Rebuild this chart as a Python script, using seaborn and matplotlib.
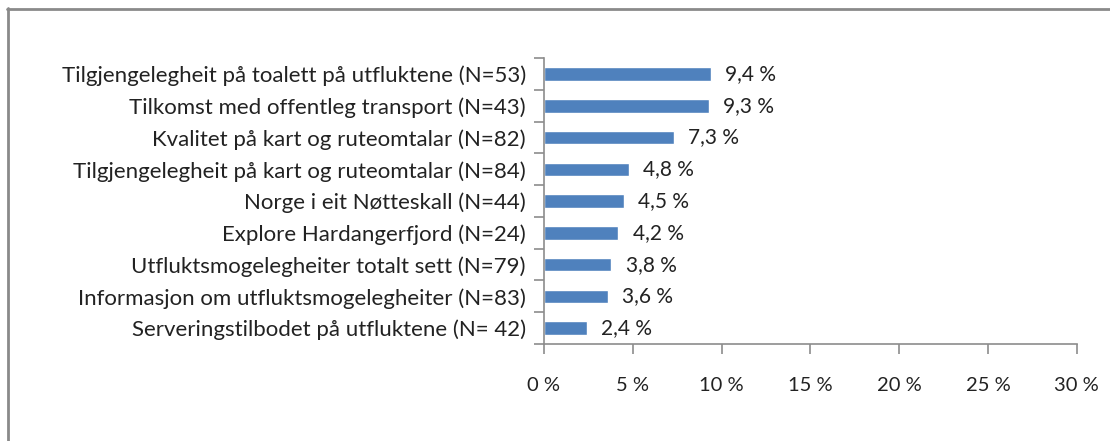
import matplotlib
matplotlib.use("Agg")
import matplotlib.pyplot as plt
from matplotlib.lines import Line2D
import seaborn as sns
import pandas as pd

categories = [
    "Tilgjengelegheit på toalett på utfluktene (N=53)",
    "Tilkomst med offentleg transport (N=43)",
    "Kvalitet på kart og ruteomtalar (N=82)",
    "Tilgjengelegheit på kart og ruteomtalar (N=84)",
    "Norge i eit Nøtteskall (N=44)",
    "Explore Hardangerfjord (N=24)",
    "Utfluktsmogelegheiter totalt sett (N=79)",
    "Informasjon om utfluktsmogelegheiter (N=83)",
    "Serveringstilbodet på utfluktene (N= 42)",
]
values = [9.4, 9.3, 7.3, 4.8, 4.5, 4.2, 3.8, 3.6, 2.4]
x_ticks = [0, 5, 10, 15, 20, 25, 30]
x_tick_labels = ["0 %", "5 %", "10 %", "15 %", "20 %", "25 %", "30 %"]

df = pd.DataFrame({"kategori": categories, "prosent": values})

sns.set_style("white")
plt.rcParams["font.family"] = ["Lato", "DejaVu Sans"]

fig = plt.figure(figsize=(11.1, 4.41), dpi=100)
ax = fig.add_axes([0.490, 0.220, 0.480, 0.648])

sns.barplot(data=df, x="prosent", y="kategori", orient="h", color="#4F81BD",
            saturation=1, width=0.42, ax=ax)

ax.set_xlim(0, 30)
ax.set_ylim(len(categories) - 0.5, -0.5)
ax.set_xticks(x_ticks)
ax.set_xticklabels(x_tick_labels)
ax.set_xlabel("")
ax.set_ylabel("")

# value labels to the right of each bar
for i, v in enumerate(values):
    ax.text(v + 0.8, i, f"{v:.1f}".replace(".", ",") + " %", va="center", ha="left",
            fontsize=15, color="#222222")

for side in ["top", "right"]:
    ax.spines[side].set_visible(False)
for side in ["left", "bottom"]:
    ax.spines[side].set_color("#8c8c8c")
    ax.spines[side].set_linewidth(1.2)

# y ticks sit between categories, x ticks point downward
ax.set_yticks([i - 0.5 for i in range(len(categories) + 1)], minor=True)
ax.tick_params(axis="y", which="major", length=0, labelsize=16, labelcolor="#222222", pad=13)
ax.tick_params(axis="y", which="minor", length=7, color="#8c8c8c", width=1.2, left=True)
ax.tick_params(axis="x", which="major", length=7, color="#8c8c8c", width=1.2, bottom=True,
               labelsize=14.5, labelcolor="#222222", pad=17)

# chart area frame (left and top edges)
fig.add_artist(Line2D([7.5 / 1110, 7.5 / 1110], [0, 1 - 8 / 441], transform=fig.transFigure,
                      color="#8a8a8a", linewidth=2))
fig.add_artist(Line2D([7 / 1110, 1], [1 - 8.5 / 441, 1 - 8.5 / 441], transform=fig.transFigure,
                      color="#8a8a8a", linewidth=2))

fig.savefig("out.png", dpi=100)
